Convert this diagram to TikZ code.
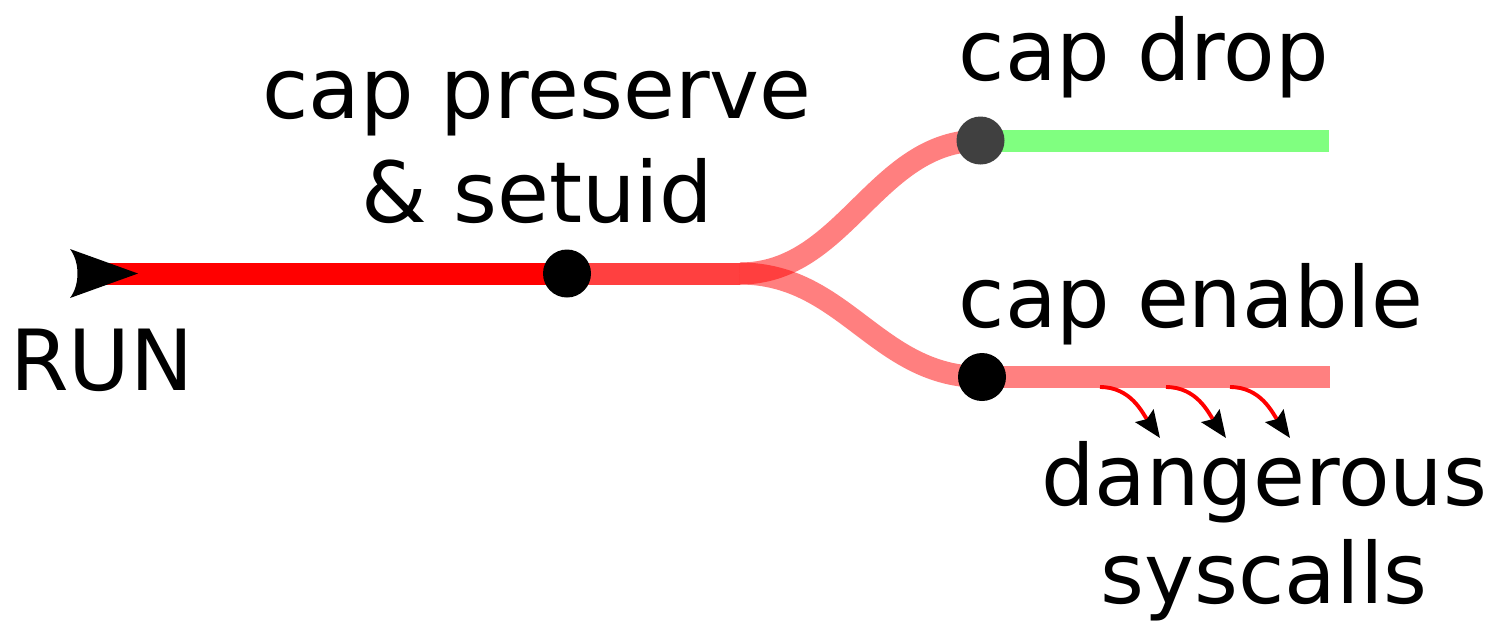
\documentclass[tikz,border=0pt]{standalone}
\usepackage{fontspec}
\setmainfont{DejaVu Sans}
\usetikzlibrary{arrows.meta,backgrounds,positioning}
\tikzset{
    label text/.style = {
        font=\fontsize{24}{29}\selectfont,
        inner sep=0pt,
        },
    station/.style = {
        circle,
        fill = black,
        minimum size=0.48cm,
        inner sep=0pt,
        },
    track/.style = {
        line width=0.22cm,
        },
    syscall/.style = {
        draw=red,
        line width=1.1pt,
        -{Stealth[length=0.27cm, width=0.22cm, inset=0.04cm, color=black]},
        },
}

\begin{document}
\begin{tikzpicture}
    \useasboundingbox (0,0) rectangle (14.92,-6.25);

    \coordinate (run) at (0.90,-2.735);
    \coordinate (fork) at (7.40,-2.735);
    \node[station] (preserve) at (5.67,-2.735) {};
    \node[station, fill=black!75] (drop) at (9.805,-1.405) {};
    \node[station] (enable) at (9.82,-3.77) {};
    \coordinate (dropend) at (13.29,-1.405);
    \coordinate (enableend) at (13.30,-3.77);

    \begin{scope}[on background layer]
        \draw[track, red] (run) -- (preserve.center);
        \draw[track, red, opacity=0.75] (preserve.center) -- (fork);
        \draw[track, red, opacity=0.5] (fork) .. controls +(1.05,0) and +(-1.05,0) .. (drop.center);
        \draw[track, red, opacity=0.5] (fork) .. controls +(1.05,0) and +(-1.05,0) .. (enable.center);
        \draw[track, green!50] (drop.center) -- (dropend);
        \draw[track, red!50] (enable.center) -- (enableend);
    \end{scope}

    % start marker
    \fill (0.70,-2.49) .. controls (0.80,-2.62) and (0.80,-2.85) .. (0.70,-2.98) -- (1.38,-2.735) -- cycle;

    \foreach \i/\x in {1/11.00, 2/11.66, 3/12.30} {
        \coordinate (s\i) at (\x,-3.87);
        \coordinate (t\i) at (\x+0.60,-4.38);
        \draw[syscall] (s\i) to[out=0, in=125] (t\i);
    }

    \node[label text, anchor=base] (preservelbl) at (5.37,-1.18) {cap preserve};
    \node[label text, anchor=base] (setuidlbl) at (5.37,-2.22) {\& setuid};
    \node[label text, anchor=base] (runlbl) at (1.02,-3.90) {RUN};
    \node[label text, anchor=base west] (droplbl) at (9.58,-0.80) {cap drop};
    \node[label text, anchor=base west] (enablelbl) at (9.58,-3.27) {cap enable};
    \node[label text, anchor=base] (dangerlbl) at (12.64,-5.05) {dangerous};
    \node[label text, anchor=base] (syscallslbl) at (12.64,-6.03) {syscalls};
\end{tikzpicture}
\end{document}
